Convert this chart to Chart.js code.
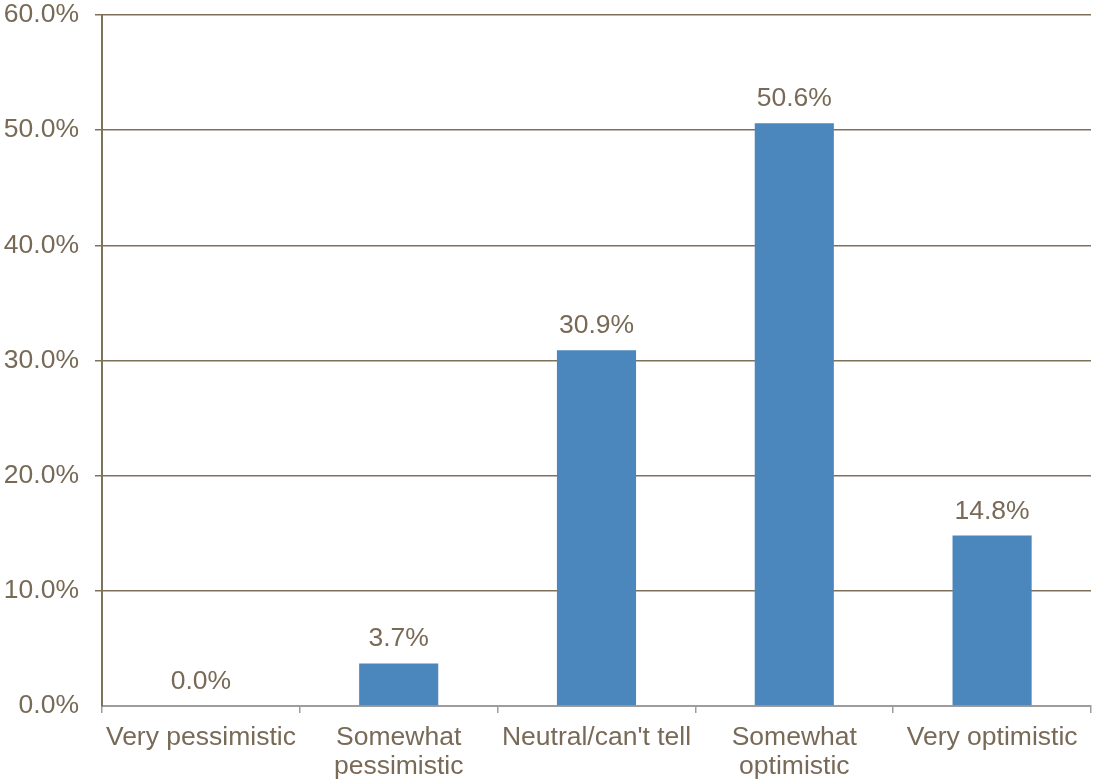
<!DOCTYPE html>
<html>
<head>
<meta charset="utf-8">
<script src="https://cdn.jsdelivr.net/npm/chart.js@4/dist/chart.umd.min.js"></script>
<style>
  html, body { margin: 0; padding: 0; background: #fff; }
  #wrap { width: 1094px; height: 782px; }
</style>
</head>
<body>
<div id="wrap"><canvas id="outlook"></canvas></div>
<script>
const categories = [
  "Very pessimistic",
  ["Somewhat", "pessimistic"],
  "Neutral/can't tell",
  ["Somewhat", "optimistic"],
  "Very optimistic"
];
const shares = [0.0, 3.7, 30.9, 50.6, 14.8];
const yTicks = [0, 10, 20, 30, 40, 50, 60];

const textColor = "#786a57";
const gridColor = "#7f705c";
const axisGrey = "#9d9d9d";
const barBlue = "#4b87bd";
const fontFamily = "'Liberation Sans', Arial, sans-serif";
const fontSize = 26.5;

// writes the percentage above each bar
const valueLabels = {
  id: "valueLabels",
  afterDatasetsDraw(chart) {
    const c = chart.ctx;
    const meta = chart.getDatasetMeta(0);
    c.save();
    c.font = fontSize + "px " + fontFamily;
    c.fillStyle = textColor;
    c.textAlign = "center";
    c.textBaseline = "alphabetic";
    meta.data.forEach((bar, i) => {
      c.fillText(shares[i].toFixed(1) + "%", bar.x, bar.y - 17);
    });
    c.restore();
  }
};

const ctx = document.getElementById("outlook").getContext("2d");
new Chart(ctx, {
  type: "bar",
  data: {
    labels: categories,
    datasets: [{
      data: shares,
      backgroundColor: barBlue,
      borderWidth: 0,
      categoryPercentage: 1,
      barPercentage: 0.4
    }]
  },
  options: {
    responsive: true,
    maintainAspectRatio: false,
    animation: false,
    layout: { padding: { top: 15, right: 3, left: 0, bottom: 0 } },
    plugins: {
      legend: { display: false },
      tooltip: { enabled: false }
    },
    scales: {
      x: {
        grid: {
          display: true,
          drawOnChartArea: false,
          drawTicks: true,
          tickLength: 7,
          color: axisGrey,
          lineWidth: 1.5
        },
        border: { display: true, color: axisGrey, width: 2 },
        ticks: {
          color: textColor,
          font: { family: fontFamily, size: fontSize, lineHeight: 1.1 },
          padding: 10,
          maxRotation: 0,
          autoSkip: false
        },
        afterFit(scale) { scale.height = 76; }
      },
      y: {
        min: 0,
        max: 60,
        afterBuildTicks(scale) {
          scale.ticks = yTicks.map(v => ({ value: v }));
        },
        grid: {
          color: ctx => ctx.tick && ctx.tick.value === 0 ? "rgba(0,0,0,0)" : gridColor,
          lineWidth: 1.5,
          tickLength: 7,
          drawTicks: true
        },
        border: { display: true, color: gridColor, width: 2 },
        ticks: {
          color: textColor,
          font: { family: fontFamily, size: fontSize },
          padding: 16,
          callback: v => v.toFixed(1) + "%"
        },
        afterFit(scale) {
          scale.width = 102;
          scale.paddingTop = 0;
          scale.paddingBottom = 0;
        }
      }
    }
  },
  plugins: [valueLabels]
});
</script>
</body>
</html>
